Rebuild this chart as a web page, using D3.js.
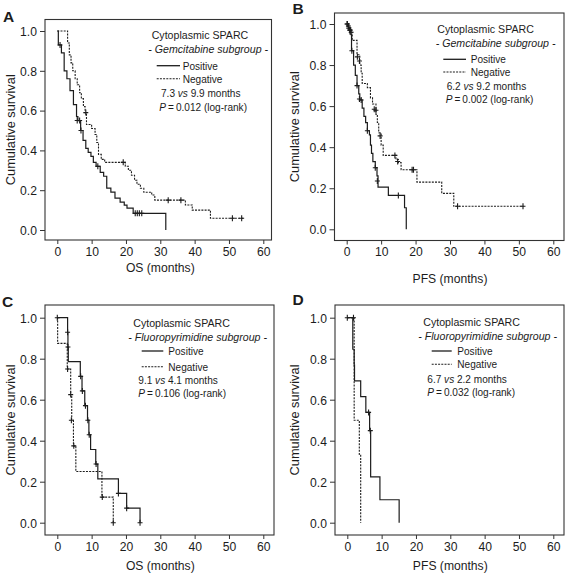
<!DOCTYPE html>
<html><head><meta charset="utf-8">
<script src="https://cdn.jsdelivr.net/npm/d3@7"></script>
<style>
body{margin:0;background:#fff}
svg{display:block}
text{font-family:"Liberation Sans",Arial,Helvetica,sans-serif;fill:#1c1c1c}
</style></head>
<body><svg id="chart" width="565" height="574"></svg>
<script>
// ---------------- DATA ----------------
const xTicks = [0, 10, 20, 30, 40, 50, 60];
const yTicks = [0.0, 0.2, 0.4, 0.6, 0.8, 1.0];
const panelLetters = ["A", "B", "C", "D"];
const xTitles = ["OS (months)", "PFS (months)", "OS (months)", "PFS (months)"];
const yTitle = "Cumulative survival";
const legendTitle = "Cytoplasmic SPARC";
const subgroups = ["- Gemcitabine subgroup -", "- Gemcitabine subgroup -",
                   "- Fluoropyrimidine subgroup -", "- Fluoropyrimidine subgroup -"];
const seriesNames = ["Positive", "Negative"];
const medianPositive = ["7.3", "6.2", "9.1", "6.7"];
const medianNegative = ["9.9", "9.2", "4.1", "2.2"];
const pValues = ["0.012", "0.002", "0.106", "0.032"];

// Kaplan-Meier steps: [months, survival after the step]
const aPositive = [[0,1],[0.3,0.93],[1.2,0.89],[2.0,0.80],[2.8,0.76],[3.7,0.70],[4.7,0.63],[5.6,0.57],[6.0,0.55],[6.8,0.50],[7.5,0.45],[8.3,0.41],[9.0,0.39],[9.8,0.37],[10.5,0.34],[11.3,0.32],[12.5,0.29],[13.5,0.27],[14.4,0.21],[15.6,0.19],[16.8,0.16],[18.3,0.14],[19.5,0.125],[20.3,0.11],[22.1,0.084],[31.6,0]];
const aPositiveCensor = [[0.8,0.93],[5.8,0.55],[6.5,0.55],[6.9,0.50],[11.8,0.32],[22.7,0.084],[23.3,0.084],[23.9,0.084],[24.6,0.084]];
const aNegative = [[0,1],[3.0,0.94],[3.5,0.88],[4.0,0.84],[4.5,0.80],[5.2,0.76],[5.8,0.73],[6.5,0.69],[7.0,0.66],[7.6,0.62],[8.1,0.59],[8.5,0.53],[10.0,0.51],[11.0,0.48],[11.5,0.44],[12.0,0.38],[12.8,0.355],[13.8,0.34],[19.8,0.32],[20.7,0.30],[21.6,0.275],[22.5,0.25],[23.2,0.23],[24.2,0.21],[25.2,0.19],[27.5,0.176],[28.4,0.15],[37.3,0.126],[39.3,0.10],[44.6,0.059],[54.2,0.059]];
const aNegativeCensor = [[8.3,0.59],[19.2,0.34],[32.3,0.15],[36.0,0.15],[51.0,0.059],[53.7,0.059]];

const bPositive = [[0,1],[0.5,0.98],[1.0,0.95],[1.4,0.87],[2.0,0.80],[2.5,0.75],[3.0,0.70],[3.5,0.66],[3.8,0.63],[4.5,0.59],[5.0,0.55],[5.5,0.52],[6.0,0.48],[6.6,0.46],[6.9,0.41],[7.2,0.37],[7.6,0.33],[8.3,0.30],[8.8,0.26],[9.1,0.205],[12.1,0.165],[16.8,0.105],[17.3,0]];
const bPositiveCensor = [[0.2,1.0],[0.6,0.98],[1.0,0.97],[1.5,0.87],[3.0,0.70],[3.7,0.635],[4.2,0.63],[6.0,0.48],[8.3,0.30],[8.9,0.235],[15.0,0.165]];
const bNegative = [[0,1],[0.6,0.98],[1.2,0.96],[1.6,0.92],[3.0,0.85],[3.8,0.80],[4.2,0.76],[4.5,0.71],[6.0,0.69],[6.9,0.64],[7.5,0.61],[8.5,0.56],[8.9,0.52],[9.3,0.47],[10.0,0.41],[10.6,0.36],[14.3,0.34],[15.0,0.325],[15.8,0.29],[20.4,0.23],[27.6,0.175],[31.1,0.112],[51.3,0.112]];
const bNegativeCensor = [[0.1,1.0],[0.5,0.99],[0.9,0.97],[1.3,0.96],[3.1,0.84],[3.7,0.82],[8.0,0.585],[8.5,0.58],[9.7,0.455],[14.0,0.36],[14.8,0.33],[19.0,0.29],[19.4,0.29],[32.2,0.112],[51.2,0.112]];

const cPositive = [[0,1],[3.0,0.929],[3.1,0.857],[3.2,0.786],[6.7,0.714],[7.2,0.643],[8.0,0.571],[8.8,0.5],[9.2,0.429],[9.7,0.357],[11.2,0.286],[11.8,0.214],[17.8,0.143],[20.2,0.071],[24.1,0]];
const cPositiveCensor = [[0,1],[3.0,0.929],[3.1,0.857],[6.8,0.714],[7.3,0.643],[8.2,0.571],[8.9,0.5],[9.3,0.429],[11.3,0.286],[17.8,0.143],[20.2,0.071],[24.1,0]];
const cNegative = [[0,1],[0.1,0.875],[2.9,0.75],[3.9,0.625],[4.2,0.5],[4.7,0.375],[5.4,0.25],[13.0,0.125],[16.3,0]];
const cNegativeCensor = [[3.0,0.75],[3.9,0.625],[4.1,0.5],[4.8,0.375],[13.1,0.125],[16.3,0]];

const dPositive = [[0,1],[1.6,0.846],[2.0,0.769],[2.1,0.692],[3.9,0.615],[5.4,0.538],[6.5,0.449],[6.8,0.224],[9.5,0.112],[15.1,0]];
const dPositiveCensor = [[0,1],[6.2,0.538],[6.7,0.449]];
const dNegative = [[0,1],[2.0,0.5],[3.5,0.333],[3.9,0]];
const dNegativeCensor = [[1.8,1.0]];

const positiveSeries = [aPositive, bPositive, cPositive, dPositive];
const positiveCensors = [aPositiveCensor, bPositiveCensor, cPositiveCensor, dPositiveCensor];
const negativeSeries = [aNegative, bNegative, cNegative, dNegative];
const negativeCensors = [aNegativeCensor, bNegativeCensor, cNegativeCensor, dNegativeCensor];

// ---------------- LAYOUT (positions only) ----------------
const SX = 0.9; // horizontal condensation of the lettering
const layout = [
  {box:[45,19.5,271.5,240], xr:[57.3,263.3], yr:[230,31], letter:[3,22], yTitleX:11, titleY:272,
   leg:{x:151.7,y:39.3,sub:-3.4,l1:156.7,l2:180,ly1:65.7,ly2:78.7,lab:182.7,mx:161,my:97.3,px:159.3,py:110.7}},
  {box:[334.5,13,564,240.5], xr:[346.7,553.3], yr:[229.3,24], letter:[292.5,13.5], yTitleX:295, titleY:282.5,
   leg:{x:437.3,y:33.3,sub:-1.6,l1:443.3,l2:466,ly1:59.3,ly2:72,lab:470.7,mx:446.7,my:90,px:445.7,py:103.3}},
  {box:[45,305,274,535], xr:[57.3,263.3], yr:[522.7,317.7], letter:[2,306.5], yTitleX:11, titleY:570,
   leg:{x:133.3,y:327,sub:-5,l1:141.7,l2:163.3,ly1:351,ly2:366.7,lab:168.3,mx:138.3,my:384,px:138.3,py:397.3}},
  {box:[335,305,564,535], xr:[347.3,553.3], yr:[522.7,317.7], letter:[292.5,305], yTitleX:295, titleY:570,
   leg:{x:423.3,y:325.5,sub:-5,l1:431.7,l2:451.7,ly1:351,ly2:364.3,lab:457.3,mx:427.3,my:383,px:427.3,py:396.3}}
];

const ink = "#1c1c1c";
const svg = d3.select("#chart");

function htext(g, x, y, size) {
  return g.append("text").attr("transform", `translate(${x},${y}) scale(${SX},1)`).attr("font-size", size);
}

layout.forEach((L, i) => {
  const g = svg.append("g");
  const x = d3.scaleLinear().domain([0, 60]).range(L.xr);
  const y = d3.scaleLinear().domain([0, 1]).range(L.yr);
  const [bx0, by0, bx1, by1] = L.box;

  // frame
  g.append("rect").attr("x", bx0).attr("y", by0).attr("width", bx1 - bx0).attr("height", by1 - by0)
    .attr("fill", "none").attr("stroke", "#333").attr("stroke-width", 1.1);

  // axes
  const xAxis = d3.axisBottom(x).tickValues(xTicks).tickSize(4).tickPadding(2).tickFormat(d3.format("d"));
  const xg = g.append("g").attr("transform", `translate(0,${by1})`).call(xAxis);
  const yAxis = d3.axisLeft(y).tickValues(yTicks).tickSize(5).tickPadding(3).tickFormat(d3.format(".1f"));
  const yg = g.append("g").attr("transform", `translate(${bx0},0)`).call(yAxis);
  [xg, yg].forEach(a => {
    a.select(".domain").remove();
    a.selectAll("line").attr("stroke", "#333").attr("stroke-width", 1);
    a.selectAll("text").attr("font-size", 13.5).attr("fill", ink)
      .attr("transform", `scale(${SX},1)`)
      .style("font-family", '"Liberation Sans",Arial,sans-serif');
  });
  yg.selectAll("text").attr("x", -8 / SX);

  // axis titles
  htext(g, (L.xr[0] + L.xr[1]) / 2, L.titleY, 13.5).attr("text-anchor", "middle").text(xTitles[i]);
  g.append("text").attr("transform", `translate(${L.yTitleX},${(by0 + by1) / 2}) rotate(-90)`)
    .attr("text-anchor", "middle").attr("dy", "0.35em").attr("font-size", 12.8).text(yTitle);

  // panel letter
  g.append("text").attr("x", L.letter[0]).attr("y", L.letter[1]).attr("font-size", 15.5)
    .attr("font-weight", "bold").text(panelLetters[i]);

  // curves
  const line = d3.line().x(d => x(d[0])).y(d => y(d[1])).curve(d3.curveStepAfter);
  const drawSeries = (data, censor, dashed) => {
    g.append("path").datum(data).attr("d", line).attr("fill", "none").attr("stroke", ink)
      .attr("stroke-width", dashed ? 1.1 : 1.2).attr("stroke-dasharray", dashed ? "2,1.2" : null);
    g.selectAll(null).data(censor).enter().append("path")
      .attr("d", d => `M${x(d[0])},${y(d[1]) - 3}V${y(d[1]) + 3}M${x(d[0]) - 2.5},${y(d[1])}H${x(d[0]) + 2.5}`)
      .attr("stroke", ink).attr("stroke-width", 1.1).attr("fill", "none");
  };
  drawSeries(negativeSeries[i], negativeCensors[i], true);
  drawSeries(positiveSeries[i], positiveCensors[i], false);

  // legend
  const lg = L.leg, fs = 11.2;
  htext(g, lg.x, lg.y, fs + 0.6).text(legendTitle);
  htext(g, lg.x + lg.sub, lg.y + 14, fs + 0.6).attr("font-style", "italic").text(subgroups[i]);
  [lg.ly1, lg.ly2].forEach((ly, k) => {
    g.append("line").attr("x1", lg.l1).attr("x2", lg.l2).attr("y1", ly).attr("y2", ly)
      .attr("stroke", ink).attr("stroke-width", k ? 1.1 : 1.3).attr("stroke-dasharray", k ? "2,1.2" : null);
    htext(g, lg.lab, ly + 4, fs).text(seriesNames[k]);
  });
  const mt = htext(g, lg.mx, lg.my, fs);
  mt.append("tspan").text(medianPositive[i] + " ");
  mt.append("tspan").attr("font-style", "italic").text("vs");
  mt.append("tspan").text(" " + medianNegative[i] + " months");
  const pt = htext(g, lg.px, lg.py, fs);
  pt.append("tspan").attr("font-style", "italic").text("P");
  pt.append("tspan").text("\u2009=\u2009" + pValues[i] + " (log-rank)");
});
</script></body></html>
